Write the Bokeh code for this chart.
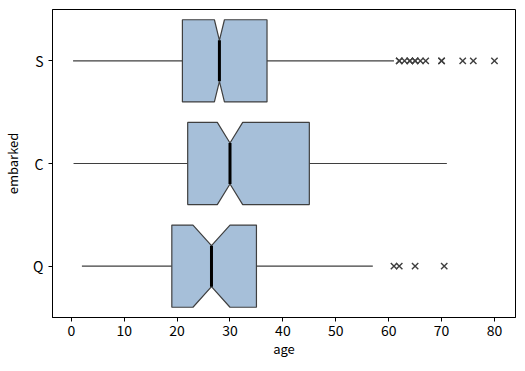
from bokeh.plotting import figure
from bokeh.models import Range1d, FixedTicker
from bokeh.embed import file_html
from bokeh.resources import INLINE

# ---- data ----
categories = ["S", "C", "Q"]
q1 = [21, 22, 19]
median = [28, 30, 26.5]
q3 = [37, 45, 35]
notch_lo = [27.05, 27.6, 23.0]
notch_hi = [28.95, 32.4, 30.0]
whisker_lo = [0.33, 0.42, 2]
whisker_hi = [61, 71, 57]
outliers_S = [62, 62, 63, 64, 64, 65, 65, 66, 67, 70, 70, 74, 76, 80]
outliers_C = []
outliers_Q = [61, 62, 65, 70.5]
outliers = {"S": outliers_S, "C": outliers_C, "Q": outliers_Q}
x_ticks = [0, 10, 20, 30, 40, 50, 60, 70, 80]

FONT = "Noto Sans CJK JP"
EDGE = "#3f3f3f"
FILL = "#a6bfd9"
HALF = 0.4

p = figure(frame_width=463, frame_height=308, output_backend="svg", toolbar_location=None,
           x_range=Range1d(-3.56, 83.98), y_range=Range1d(2.5, -0.5),
           min_border_left=47, min_border_right=3, min_border_top=9, min_border_bottom=40)
p.background_fill_color = "white"
p.border_fill_color = "white"
p.outline_line_color = "black"
p.outline_line_width = 1
p.outline_line_alpha = 1
p.xgrid.visible = False
p.ygrid.visible = False

ys = list(range(len(categories)))

# whiskers
p.segment(x0=whisker_lo, y0=ys, x1=q1, y1=ys, line_color=EDGE, line_width=1.2)
p.segment(x0=q3, y0=ys, x1=whisker_hi, y1=ys, line_color=EDGE, line_width=1.2)

# notched boxes
xs_list, ys_list = [], []
for i, y in enumerate(ys):
    top, bot = y - HALF, y + HALF
    itop, ibot = y - HALF / 2, y + HALF / 2
    xs_list.append([q1[i], notch_lo[i], median[i], notch_hi[i], q3[i],
                    q3[i], notch_hi[i], median[i], notch_lo[i], q1[i]])
    ys_list.append([top, top, itop, top, top, bot, bot, ibot, bot, bot])
p.patches(xs=xs_list, ys=ys_list, fill_color=FILL, line_color=EDGE, line_width=1.2)

# medians
p.segment(x0=median, y0=[y - HALF / 2 for y in ys], x1=median, y1=[y + HALF / 2 for y in ys],
          line_color="black", line_width=3)

# outliers
ox, oy = [], []
for i, c in enumerate(categories):
    for v in outliers[c]:
        ox.append(v)
        oy.append(ys[i])
p.scatter(x=ox, y=oy, marker="x", size=9, line_color=EDGE, line_width=1.4)

# axes
p.xaxis.ticker = FixedTicker(ticks=x_ticks)
p.yaxis.ticker = FixedTicker(ticks=ys)
p.yaxis.major_label_overrides = {y: c for y, c in zip(ys, categories)}
for ax in (p.xaxis[0], p.yaxis[0]):
    ax.minor_tick_line_color = None
    ax.major_tick_out = 4
    ax.major_tick_in = 0
    ax.major_tick_line_color = "black"
    ax.axis_line_color = "black"
    ax.major_label_text_font = FONT
    ax.major_label_text_font_size = "14px"
    ax.major_label_text_color = "black"
    ax.axis_label_text_font = FONT
    ax.axis_label_text_font_size = "13px"
    ax.axis_label_text_font_style = "normal"
    ax.axis_label_text_color = "black"
p.xaxis.axis_label = "age"
p.yaxis.axis_label = "embarked"
p.xaxis.major_label_standoff = 3
p.yaxis.major_label_standoff = 5
p.xaxis.axis_label_standoff = 0
p.yaxis.axis_label_standoff = 8

open("out.html", "w").write(file_html(p, INLINE))
